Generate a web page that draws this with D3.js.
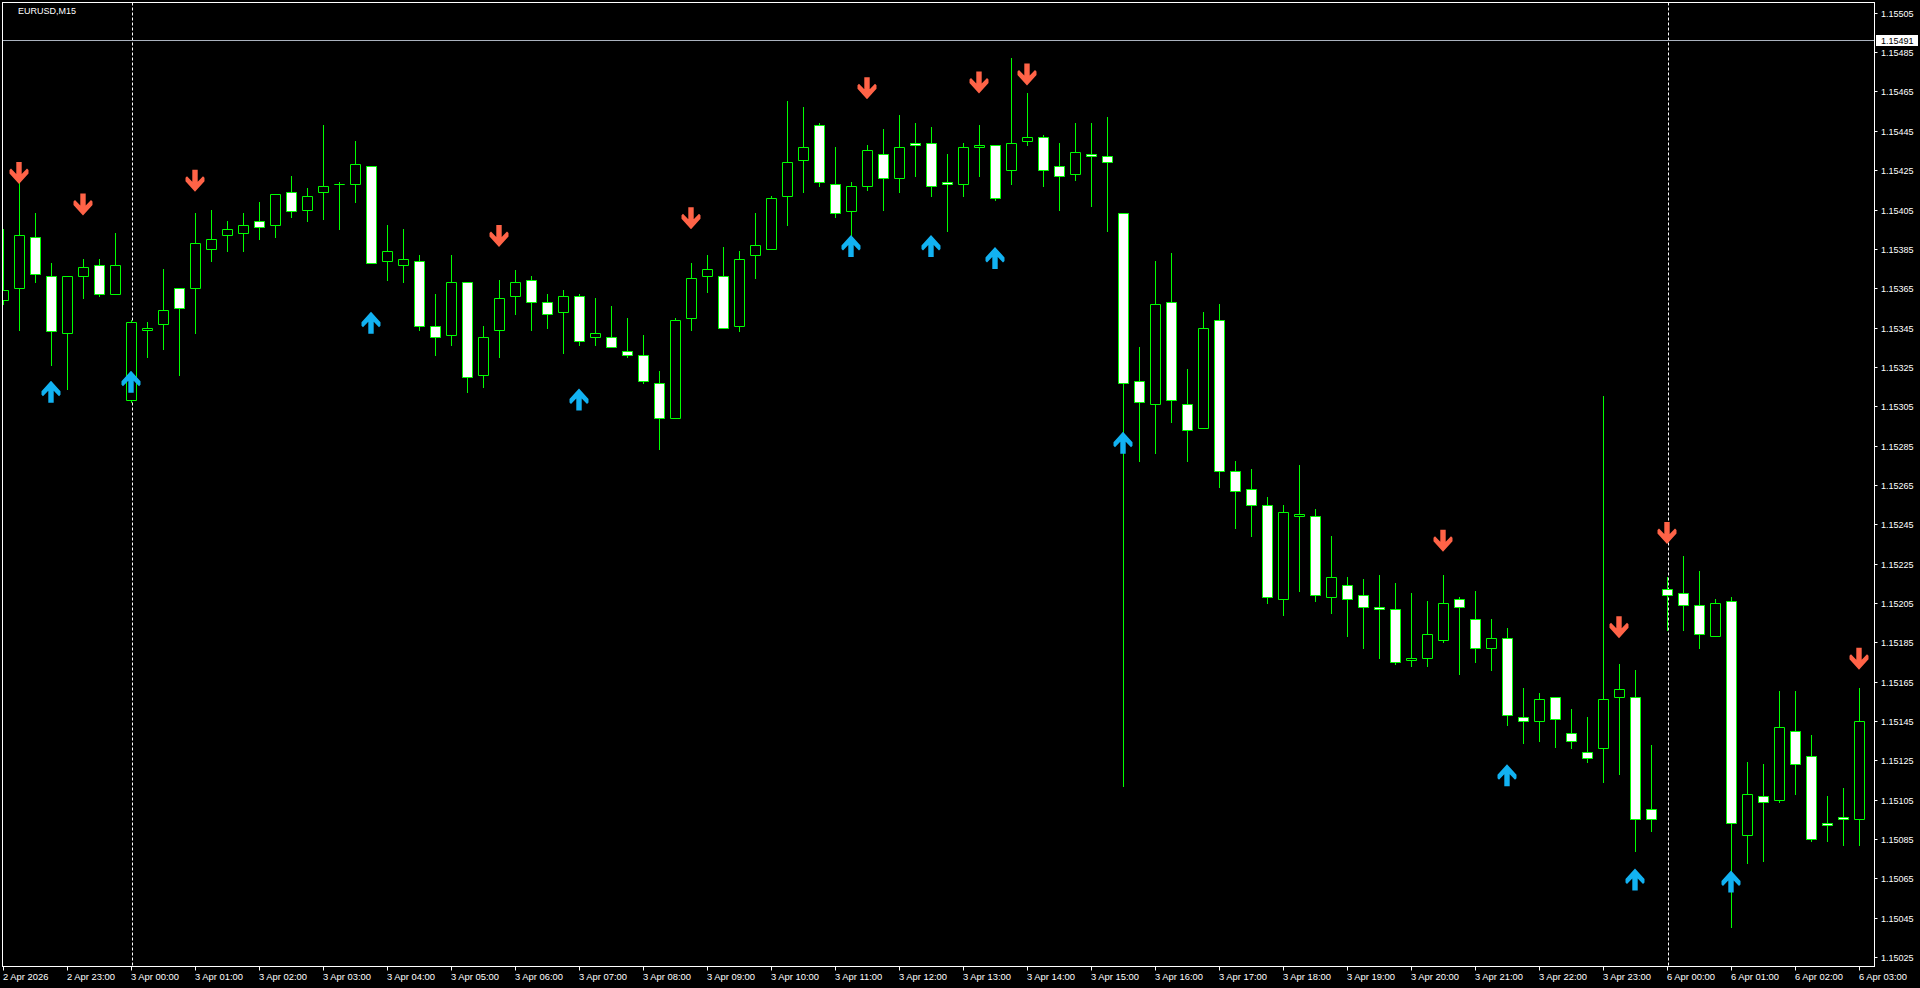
<!DOCTYPE html>
<html><head><meta charset="utf-8">
<script src="https://cdn.jsdelivr.net/npm/d3@7"></script>
<style>html,body{margin:0;padding:0;background:#000;overflow:hidden}</style>
</head><body><svg id="c" width="1920" height="988"></svg>
<script>
// EURUSD M15 bars, 2 Apr 22:00 .. 6 Apr 03:00 (117 bars)
const open = [1.15359,1.15365,1.15391,1.15371,1.15342,1.15371,1.15377,1.15362,1.15308,1.15344,
1.15347,1.15365,1.15365,1.15385,1.15392,1.15393,1.15399,1.15397,1.15414,1.15405,
1.15414,1.15418,1.15418,1.15427,1.15379,1.15377,1.15379,1.15346,1.15341,1.15368,
1.15321,1.15344,1.15361,1.15369,1.15358,1.15353,1.15361,1.15340,1.15340,1.15333,
1.15331,1.15317,1.15299,1.15350,1.15371,1.15371,1.15346,1.15382,1.15385,1.15412,
1.15430,1.15448,1.15418,1.15404,1.15417,1.15433,1.15421,1.15439,1.15439,1.15419,
1.15418,1.15437,1.15438,1.15425,1.15440,1.15442,1.15427,1.15423,1.15433,1.15432,
1.15403,1.15318,1.15306,1.15358,1.15306,1.15294,1.15349,1.15272,1.15263,1.15255,
1.15207,1.15249,1.15249,1.15208,1.15214,1.15209,1.15203,1.15202,1.15176,1.15177,
1.15186,1.15207,1.15197,1.15182,1.15187,1.15147,1.15145,1.15157,1.15139,1.15129,
1.15131,1.15157,1.15157,1.15100,1.15212,1.15210,1.15204,1.15188,1.15206,1.15087,
1.15107,1.15105,1.15140,1.15127,1.15093,1.15096,1.15095];
const high = [1.15395,1.15419,1.15403,1.15378,1.15371,1.15380,1.15380,1.15393,1.15349,1.15348,
1.15375,1.15365,1.15403,1.15405,1.15399,1.15403,1.15409,1.15413,1.15422,1.15416,
1.15448,1.15419,1.15440,1.15427,1.15397,1.15395,1.15382,1.15362,1.15382,1.15368,
1.15346,1.15369,1.15374,1.15371,1.15362,1.15364,1.15362,1.15360,1.15356,1.15350,
1.15341,1.15323,1.15350,1.15378,1.15382,1.15386,1.15384,1.15403,1.15412,1.15460,
1.15457,1.15449,1.15437,1.15419,1.15438,1.15446,1.15453,1.15449,1.15447,1.15433,
1.15439,1.15448,1.15438,1.15482,1.15464,1.15443,1.15439,1.15449,1.15449,1.15452,
1.15403,1.15335,1.15379,1.15383,1.15324,1.15353,1.15357,1.15277,1.15273,1.15259,
1.15255,1.15275,1.15253,1.15239,1.15218,1.15217,1.15219,1.15215,1.15210,1.15206,
1.15219,1.15208,1.15211,1.15197,1.15192,1.15162,1.15159,1.15157,1.15151,1.15147,
1.15310,1.15174,1.15171,1.15133,1.15218,1.15229,1.15221,1.15207,1.15208,1.15124,
1.15123,1.15160,1.15160,1.15138,1.15107,1.15111,1.15162];
const low = [1.15357,1.15344,1.15368,1.15326,1.15314,1.15360,1.15361,1.15362,1.15307,1.15330,
1.15334,1.15321,1.15342,1.15379,1.15384,1.15384,1.15390,1.15391,1.15401,1.15399,
1.15400,1.15395,1.15409,1.15378,1.15369,1.15368,1.15344,1.15331,1.15336,1.15312,
1.15315,1.15330,1.15352,1.15344,1.15345,1.15332,1.15336,1.15336,1.15335,1.15330,
1.15317,1.15283,1.15299,1.15344,1.15363,1.15345,1.15343,1.15370,1.15385,1.15397,
1.15414,1.15417,1.15401,1.15391,1.15415,1.15405,1.15414,1.15422,1.15412,1.15394,
1.15412,1.15422,1.15410,1.15418,1.15438,1.15417,1.15405,1.15420,1.15407,1.15394,
1.15112,1.15277,1.15281,1.15297,1.15277,1.15294,1.15264,1.15243,1.15239,1.15205,
1.15199,1.15211,1.15206,1.15200,1.15188,1.15182,1.15177,1.15174,1.15173,1.15173,
1.15185,1.15169,1.15175,1.15171,1.15143,1.15134,1.15135,1.15132,1.15131,1.15124,
1.15114,1.15118,1.15079,1.15089,1.15191,1.15191,1.15182,1.15188,1.15040,1.15073,
1.15074,1.15104,1.15108,1.15084,1.15084,1.15082,1.15082];
const close = [1.15364,1.15392,1.15372,1.15343,1.15371,1.15376,1.15362,1.15377,1.15348,1.15345,
1.15354,1.15355,1.15388,1.15390,1.15395,1.15397,1.15396,1.15413,1.15404,1.15412,
1.15417,1.15418,1.15428,1.15378,1.15384,1.15380,1.15346,1.15340,1.15368,1.15320,
1.15340,1.15360,1.15368,1.15358,1.15352,1.15361,1.15338,1.15342,1.15335,1.15331,
1.15318,1.15299,1.15349,1.15370,1.15375,1.15345,1.15380,1.15387,1.15411,1.15429,
1.15437,1.15419,1.15403,1.15417,1.15435,1.15421,1.15437,1.15438,1.15417,1.15418,
1.15437,1.15438,1.15411,1.15439,1.15442,1.15425,1.15422,1.15434,1.15432,1.15429,
1.15317,1.15307,1.15357,1.15308,1.15293,1.15345,1.15272,1.15262,1.15255,1.15208,
1.15251,1.15250,1.15209,1.15218,1.15207,1.15203,1.15202,1.15175,1.15177,1.15189,
1.15205,1.15203,1.15182,1.15187,1.15148,1.15145,1.15156,1.15146,1.15135,1.15126,
1.15156,1.15161,1.15095,1.15095,1.15209,1.15204,1.15189,1.15205,1.15093,1.15108,
1.15104,1.15142,1.15123,1.15085,1.15092,1.15095,1.15145];

// signal arrows (bar index, price of arrow tip)
const sellBars   = [1,5,12,31,43,54,61,64,90,101,104,116];
const sellPrices = [1.15418,1.15402,1.15414,1.15386,1.15395,1.15461,1.15464,1.15468,1.15231,1.15187,1.15235,1.15171];
const buyBars    = [3,8,23,36,53,58,62,70,94,102,108];
const buyPrices  = [1.15318,1.15323,1.15353,1.15314,1.15392,1.15392,1.15386,1.15292,1.15123,1.15070,1.15069];

// axes
const timeTickBars = [0,4,8,12,16,20,24,28,32,36,40,44,48,52,56,60,64,68,72,76,80,84,88,92,96,100,104,108,112,116];
const timeTickLabels = ["2 Apr 2026","2 Apr 23:00","3 Apr 00:00","3 Apr 01:00","3 Apr 02:00","3 Apr 03:00","3 Apr 04:00",
"3 Apr 05:00","3 Apr 06:00","3 Apr 07:00","3 Apr 08:00","3 Apr 09:00","3 Apr 10:00","3 Apr 11:00","3 Apr 12:00",
"3 Apr 13:00","3 Apr 14:00","3 Apr 15:00","3 Apr 16:00","3 Apr 17:00","3 Apr 18:00","3 Apr 19:00","3 Apr 20:00",
"3 Apr 21:00","3 Apr 22:00","3 Apr 23:00","6 Apr 00:00","6 Apr 01:00","6 Apr 02:00","6 Apr 03:00"];
const priceTicks = [1.15025,1.15045,1.15065,1.15085,1.15105,1.15125,1.15145,1.15165,1.15185,1.15205,1.15225,1.15245,
1.15265,1.15285,1.15305,1.15325,1.15345,1.15365,1.15385,1.15405,1.15425,1.15445,1.15465,1.15485,1.15505];
const daySeparatorBars = [8,104];
const levelPrice = 1.15491;
const symbolTitle = "EURUSD,M15";

// ---- drawing ----
const W=1920,H=988;
const plotL=2.5, plotT=2.5, plotR=1874.5, plotB=966.5;
const svg=d3.select("#c");
svg.append("rect").attr("width",W).attr("height",H).attr("fill","#000");

const x=d3.scaleLinear().domain([0,116]).range([3.5,1859.5]);
const y=d3.scaleLinear().domain([1.15025,1.15505]).range([957.0,12.8]);
const FONT="'Liberation Sans', Arial, sans-serif";
const GREEN="#00ff00";

svg.append("defs").append("clipPath").attr("id","plot")
  .append("rect").attr("x",plotL).attr("y",plotT).attr("width",plotR-plotL).attr("height",plotB-plotT);

const g=svg.append("g").attr("clip-path","url(#plot)");

// day separators
g.selectAll("line.sep").data(daySeparatorBars).enter().append("line")
  .attr("x1",d=>Math.round(x(d))+0.5).attr("x2",d=>Math.round(x(d))+0.5)
  .attr("y1",plotT).attr("y2",plotB)
  .attr("stroke","#fff").attr("stroke-width",1).attr("stroke-dasharray","3,2");

// level line
const ly=Math.round(y(levelPrice))+0.5;
g.append("line").attr("x1",plotL).attr("x2",plotR).attr("y1",ly).attr("y2",ly)
  .attr("stroke","#aab2be").attr("stroke-width",1);

const bars=d3.range(open.length).map(i=>({i,o:open[i],h:high[i],l:low[i],c:close[i]}));
const px=v=>Math.round(v)+0.5;

// wicks
g.selectAll("line.wick").data(bars).enter().append("line")
  .attr("x1",d=>px(x(d.i)-0.5)).attr("x2",d=>px(x(d.i)-0.5))
  .attr("y1",d=>Math.round(y(d.h))).attr("y2",d=>Math.round(y(d.l))+1)
  .attr("stroke",GREEN).attr("stroke-width",1);

// bodies
g.selectAll("path.body").data(bars).enter().append("path")
  .attr("d",d=>{
    const cx=x(d.i);
    const x0=px(cx-5.5), x1=px(cx+4.5);
    const y0=px(y(Math.max(d.o,d.c))), y1=px(y(Math.min(d.o,d.c)));
    return `M${x0},${y0}H${x1}V${y1}H${x0}Z`;
  })
  .attr("fill",d=>d.c>=d.o?"#000":"#fff")
  .attr("stroke",GREEN).attr("stroke-width",1);

// arrows
function downArrow(cx,ty){
  const p=[[-2.7,-22],[2.7,-22],[2.7,-10],[8,-15.5],[9.5,-14],[9.5,-10.5],[0,0],[-9.5,-10.5],[-9.5,-14],[-8,-15.5],[-2.7,-10]];
  return "M"+p.map(q=>(cx+q[0])+","+(ty+q[1])).join("L")+"Z";
}
function upArrow(cx,ty){
  const p=[[-2.7,22],[2.7,22],[2.7,10],[8,15.5],[9.5,14],[9.5,10.5],[0,0],[-9.5,10.5],[-9.5,14],[-8,15.5],[-2.7,10]];
  return "M"+p.map(q=>(cx+q[0])+","+(ty+q[1])).join("L")+"Z";
}
g.selectAll("path.sell").data(sellBars).enter().append("path")
  .attr("d",(d,k)=>downArrow(x(d)-0.5,y(sellPrices[k]))).attr("fill","#ff6347");
g.selectAll("path.buy").data(buyBars).enter().append("path")
  .attr("d",(d,k)=>upArrow(x(d)-0.5,y(buyPrices[k]))).attr("fill","#12b2f2");

// frame
svg.append("rect").attr("x",plotL).attr("y",plotT).attr("width",plotR-plotL).attr("height",plotB-plotT)
  .attr("fill","none").attr("stroke","#fff").attr("stroke-width",1);

// title
svg.append("text").attr("x",18).attr("y",14).attr("fill","#fff")
  .style("font",`9px ${FONT}`).text(symbolTitle);

// price axis
const pa=svg.append("g");
priceTicks.forEach(p=>{
  const yy=Math.round(y(p))+0.5;
  pa.append("line").attr("x1",plotR).attr("x2",plotR+3).attr("y1",yy).attr("y2",yy).attr("stroke","#fff");
  pa.append("text").attr("x",1881).attr("y",yy+3.5).attr("fill","#fff")
    .style("font",`9px ${FONT}`).text(p.toFixed(5));
});
pa.append("rect").attr("x",1876).attr("y",Math.round(y(levelPrice))-5).attr("width",42).attr("height",11).attr("fill","#fff");
pa.append("text").attr("x",1881).attr("y",Math.round(y(levelPrice))+4).attr("fill","#000")
  .style("font",`9px ${FONT}`).text(levelPrice.toFixed(5));

// time axis
const ta=svg.append("g");
timeTickBars.forEach((b,k)=>{
  const xx=Math.round(x(b)-0.5)+0.5;
  ta.append("line").attr("x1",xx).attr("x2",xx).attr("y1",plotB).attr("y2",plotB+4).attr("stroke","#fff");
  ta.append("text").attr("x",xx-0.5).attr("y",980).attr("fill","#fff")
    .style("font",`9.4px ${FONT}`).text(timeTickLabels[k]);
});
</script></body></html>
